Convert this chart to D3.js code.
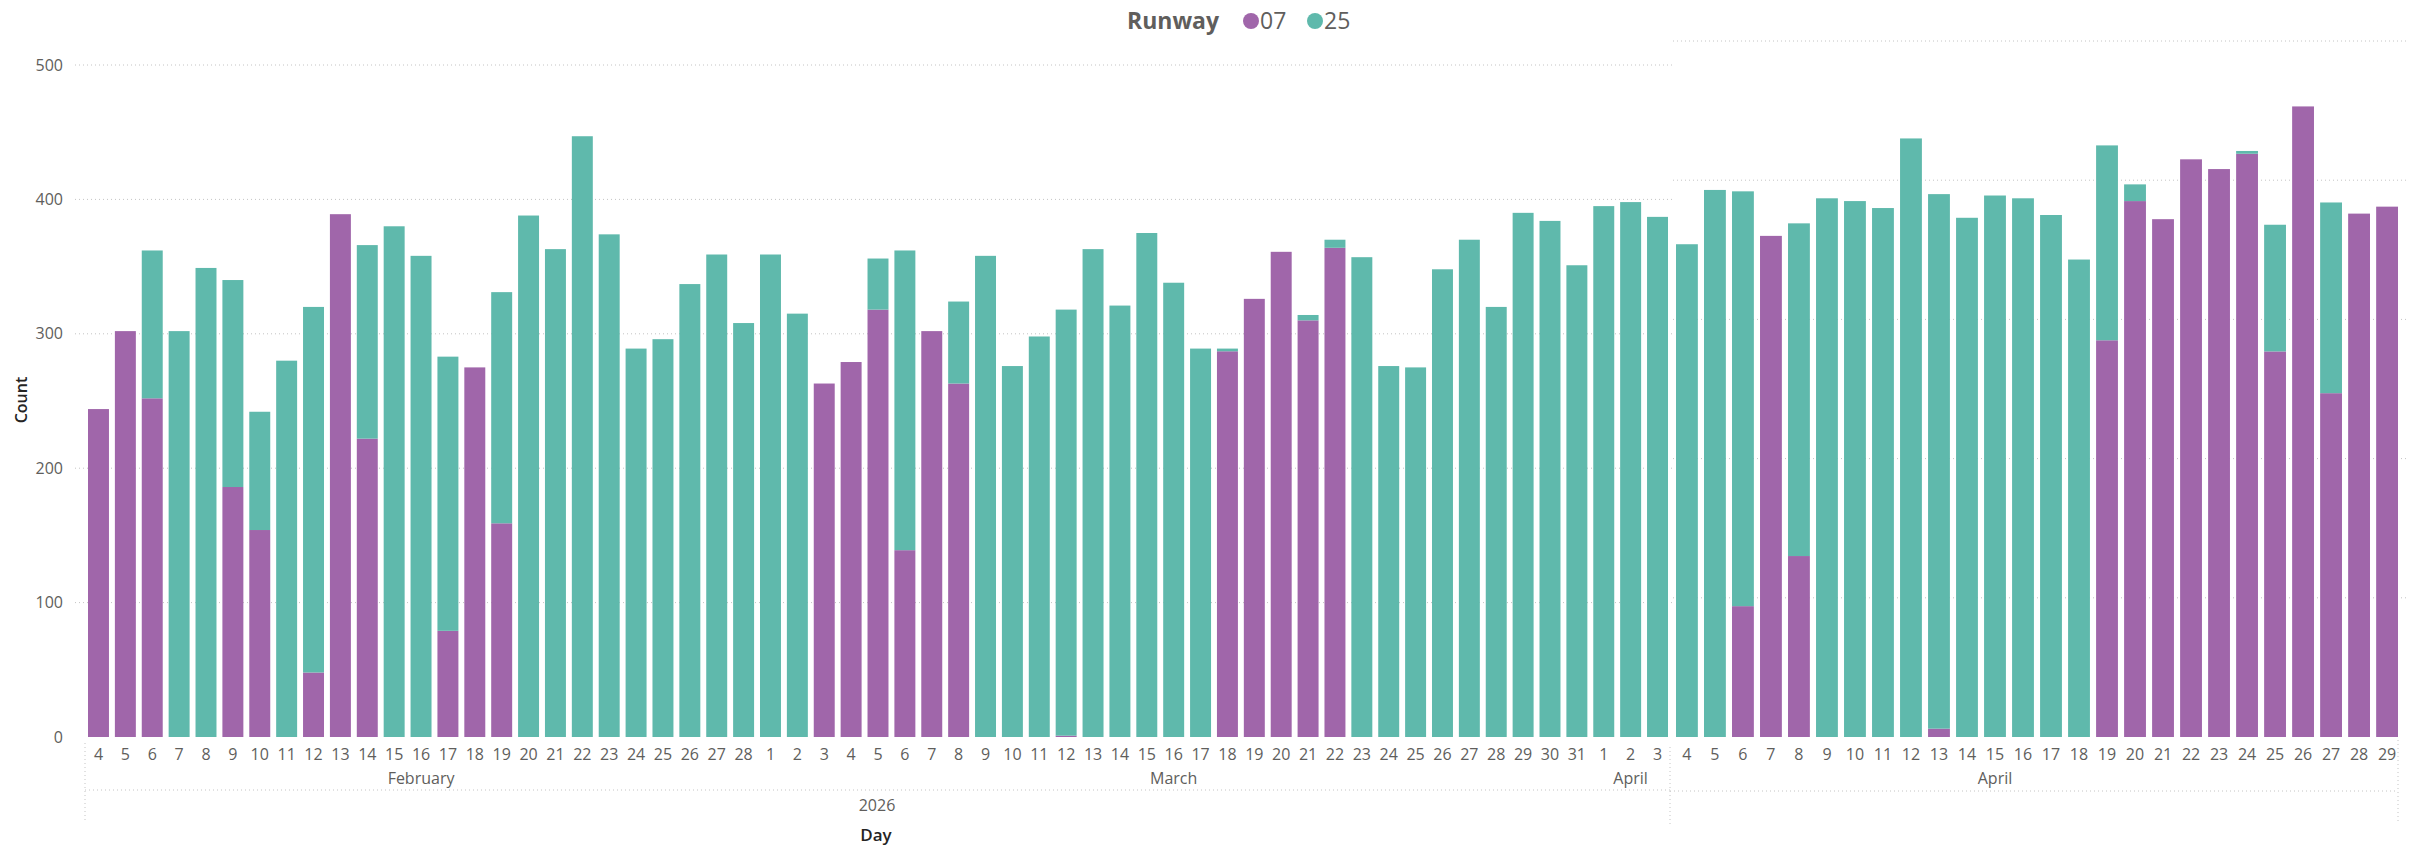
<!DOCTYPE html>
<html>
<head>
<meta charset="utf-8">
<script src="https://cdn.jsdelivr.net/npm/d3@7"></script>
<style>
  body { margin: 0; background: #fff; }
  svg { display: block; font-family: "Open Sans", "Segoe UI", sans-serif; }
</style>
</head>
<body>
<svg width="2418" height="845"></svg>
<script>
// day labels, Feb 4 .. Apr 29 2026
var days = ["4","5","6","7","8","9","10","11","12","13","14","15","16","17","18","19","20","21","22","23","24","25","26","27","28",
  "1","2","3","4","5","6","7","8","9","10","11","12","13","14","15","16","17","18","19","20","21","22","23","24","25","26","27","28","29","30","31",
  "1","2","3",
  "4","5","6","7","8","9","10","11","12","13","14","15","16","17","18","19","20","21","22","23","24","25","26","27","28","29"];

// runway 07 counts
var r07 = [244,302,252,0,0,186,154,0,48,389,222,0,0,79,275,159,0,0,0,0,0,0,0,0,0,
  0,0,263,279,318,139,302,263,0,0,0,1,0,0,0,0,0,287,326,361,310,364,0,0,0,0,0,0,0,0,0,
  0,0,0,
  0,0,94,360,130,0,0,0,0,6,0,0,0,0,0,285,385,372,415,408,419,277,453,247,376,381];

// runway 25 counts
var r25 = [0,0,110,302,349,154,88,280,272,0,144,380,358,204,0,172,388,363,447,374,289,296,337,359,308,
  359,315,0,0,38,223,0,61,358,276,298,317,363,321,375,338,289,2,0,0,4,6,357,276,275,348,370,320,390,384,351,
  395,398,387,
  354,393,298,0,239,387,385,380,430,384,373,389,387,375,343,140,12,0,0,0,2,91,0,137,0,0];

var yTicks = [0,100,200,300,400,500];
var runways = ["07","25"];
var colors = ["#A066AA","#5FB9AC"];

// month groups: [label, first index, last index]
var months = [["February",0,24],["March",25,55],["April",56,58],["April",59,84]];
var yearLabel = "2026";

var svg = d3.select("svg");

var data = days.map(function(d, i) {
  return {i: i, day: d, r07: r07[i], r25: r25[i]};
});
var stacked = d3.stack().keys(["r07","r25"])(data);

// the picture is two panels side by side, each with its own scale
var panels = [
  {from: 0, to: 58, x0: 88, x1: 1668, yTop: 65, gx0: 75, gx1: 1672},
  {from: 59, to: 84, x0: 1676, x1: 2398, yTop: 41, gx0: 1673, gx1: 2408}
];

panels.forEach(function(p) {
  var idx = d3.range(p.from, p.to + 1);
  p.x = d3.scaleBand().domain(idx).range([p.x0, p.x1]).paddingInner(0.22).paddingOuter(0);
  p.y = d3.scaleLinear().domain([0, 500]).range([737, p.yTop]);

  // gridlines
  svg.append("g").selectAll("line")
    .data(yTicks.slice(1))
    .enter()
    .append("line")
    .attr("x1", p.gx0).attr("x2", p.gx1)
    .attr("y1", function(d) { return p.y(d); })
    .attr("y2", function(d) { return p.y(d); })
    .attr("stroke", "#c4c4c4")
    .attr("stroke-width", 1)
    .attr("stroke-dasharray", "1,3");

  // bars
  var g = svg.append("g");
  stacked.forEach(function(layer, k) {
    g.append("g")
      .attr("fill", colors[k])
      .selectAll("rect")
      .data(layer.filter(function(d) { return d.data.i >= p.from && d.data.i <= p.to && d[1] > d[0]; }))
      .enter()
      .append("rect")
      .attr("x", function(d) { return p.x(d.data.i); })
      .attr("width", p.x.bandwidth())
      .attr("y", function(d) { return p.y(d[1]); })
      .attr("height", function(d) { return p.y(d[0]) - p.y(d[1]); });
  });

  // day labels
  svg.append("g").selectAll("text")
    .data(idx)
    .enter()
    .append("text")
    .attr("x", function(i) { return p.x(i) + p.x.bandwidth() / 2; })
    .attr("y", 754)
    .attr("dy", "0.35em")
    .attr("text-anchor", "middle")
    .attr("font-size", 16)
    .attr("fill", "#605E5C")
    .text(function(i) { return days[i]; });
  p.center = function(i) { return p.x(i) + p.x.bandwidth() / 2; };
});

function panelOf(i) { return i <= panels[0].to ? panels[0] : panels[1]; }

// month labels
months.forEach(function(m, k) {
  var p = panelOf(m[1]);
  var cx = (p.center(m[1]) + p.center(m[2])) / 2;
  if (k == 3) cx = p.center(70); // the last one sits left of its group in the reference
  svg.append("text")
    .attr("x", cx).attr("y", 778).attr("dy", "0.35em")
    .attr("text-anchor", "middle")
    .attr("font-size", 16)
    .attr("fill", "#605E5C")
    .text(m[0]);
});

// category boxes (dotted)
var boxLines = [
  [85, 743, 85, 822], [85, 790, 1670, 790], [1670, 747, 1670, 825],
  [1670, 791, 2398, 791], [2398, 740, 2398, 822]
];
svg.append("g").selectAll("line")
  .data(boxLines)
  .enter()
  .append("line")
  .attr("x1", function(d) { return d[0]; })
  .attr("y1", function(d) { return d[1]; })
  .attr("x2", function(d) { return d[2]; })
  .attr("y2", function(d) { return d[3]; })
  .attr("stroke", "#c4c4c4")
  .attr("stroke-dasharray", "1,3");

svg.append("text")
  .attr("x", 877).attr("y", 805).attr("dy", "0.35em")
  .attr("text-anchor", "middle")
  .attr("font-size", 16)
  .attr("fill", "#605E5C")
  .text(yearLabel);

svg.append("text")
  .attr("x", 876).attr("y", 835).attr("dy", "0.35em")
  .attr("text-anchor", "middle")
  .attr("font-size", 17)
  .attr("font-weight", 600)
  .attr("fill", "#252423")
  .text("Day");

// y axis (left panel only)
var yLeft = panels[0].y;
var yAxis = d3.axisLeft(yLeft).tickValues(yTicks).tickSize(0).tickPadding(0);
var ya = svg.append("g").attr("transform", "translate(63,0)").call(yAxis);
ya.select(".domain").remove();
ya.selectAll("text")
  .attr("font-size", 16)
  .attr("font-family", "Open Sans, sans-serif")
  .attr("fill", "#605E5C");

svg.append("text")
  .attr("transform", "translate(21,400) rotate(-90)")
  .attr("text-anchor", "middle")
  .attr("dy", "0.35em")
  .attr("font-size", 16)
  .attr("font-weight", 600)
  .attr("fill", "#252423")
  .text("Count");

// legend
var legend = svg.append("g");
legend.append("text")
  .attr("x", 1127).attr("y", 21).attr("dy", "0.35em")
  .attr("font-size", 23)
  .attr("font-weight", 700)
  .attr("fill", "#605E5C")
  .text("Runway");
var legX = [1251, 1315];
runways.forEach(function(r, k) {
  legend.append("circle")
    .attr("cx", legX[k]).attr("cy", 21).attr("r", 8)
    .attr("fill", colors[k]);
  legend.append("text")
    .attr("x", legX[k] + 9).attr("y", 21).attr("dy", "0.35em")
    .attr("font-size", 23)
    .attr("fill", "#605E5C")
    .text(r);
});
</script>
</body>
</html>
